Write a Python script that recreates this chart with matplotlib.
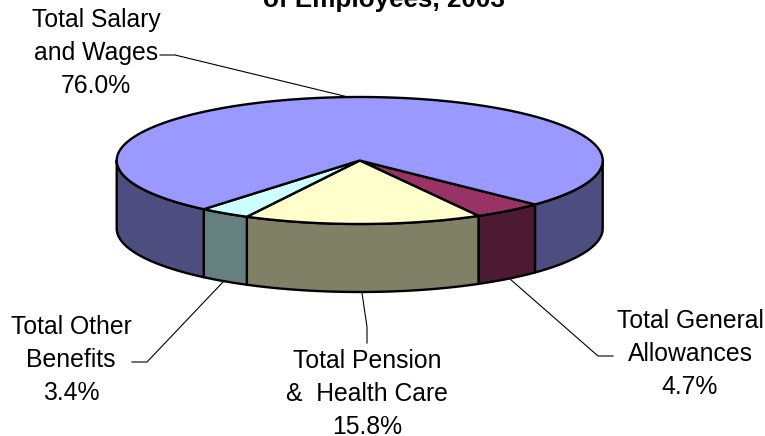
import numpy as np
import matplotlib
matplotlib.use('Agg')
import matplotlib.pyplot as plt
from matplotlib.patches import Polygon

plt.rcParams['font.family'] = ['Liberation Sans', 'DejaVu Sans']

# slices, clockwise starting from the right hand edge of the maroon one
labels = ['Total General\nAllowances\n4.7%', 'Total Pension\n&  Health Care\n15.8%',
          'Total Other\nBenefits\n3.4%', 'Total Salary\nand Wages\n76.0%']
values = [4.7, 15.8, 3.4, 76.0]
top_colors = ['#993366', '#FFFFCC', '#CCFFFF', '#9999FF']
wall_colors = ['#4D1A33', '#808066', '#668080', '#4D4D80']
title = 'of Employees, 2003'

# pie geometry in pixels
cx, cy = 359.7, 160.5
rx, ry = 243, 63.5
depth = 68
start = 43.8

fig = plt.figure(figsize=(7.65, 4.36), dpi=100)
ax = fig.add_axes([0, 0, 1, 1])
ax.set_xlim(0, 765)
ax.set_ylim(436, 0)
ax.axis('off')


def rim(a, b):
    t = np.radians(np.linspace(a, b, max(int(abs(b - a) * 2), 2)))
    return cx + rx * np.cos(t), cy + ry * np.sin(t)


def draw_wall(a, b, color):
    x, y = rim(a, b)
    pts = np.r_[np.c_[x, y], np.c_[x[::-1], y[::-1] + depth]]
    ax.add_patch(Polygon(pts, closed=True, fc=color, ec='black', lw=1.7, joinstyle='round', zorder=2))


shares = np.array(values) / sum(values) * 360
edges = start + np.r_[0, np.cumsum(shares)]

for i in range(len(values)):
    a, b = edges[i], edges[i + 1]
    # only the front half of the side is visible
    for lo, hi in [(0, 180), (360, 540)]:
        if min(b, hi) > max(a, lo):
            draw_wall(max(a, lo), min(b, hi), wall_colors[i])

for i in range(len(values)):
    x, y = rim(edges[i], edges[i + 1])
    pts = np.r_[[[cx, cy]], np.c_[x, y]]
    ax.add_patch(Polygon(pts, closed=True, fc=top_colors[i], ec='black', lw=1.7, joinstyle='round', zorder=3))

# leader lines
leaders = [([160, 175, 348], [55, 55, 97]),
           ([132, 147, 223], [362, 362, 282]),
           ([367, 367, 362], [343, 327, 293]),
           ([510, 598, 613], [279, 356, 356])]
for lx, ly in leaders:
    ax.plot(lx, ly, color='black', lw=0.8, zorder=1)

# label centres
label_pos = [(690, 354), (367, 394), (71, 360), (96, 53)]
for txt, (lx, ly) in zip(labels, label_pos):
    ax.text(lx, ly, txt, ha='center', va='center', fontsize=17.8, linespacing=1.49, color='black')

ax.text(384, 7.5, title, ha='center', va='baseline', fontsize=18.7, fontweight='bold', color='black')

fig.savefig('out.png', dpi=100)
